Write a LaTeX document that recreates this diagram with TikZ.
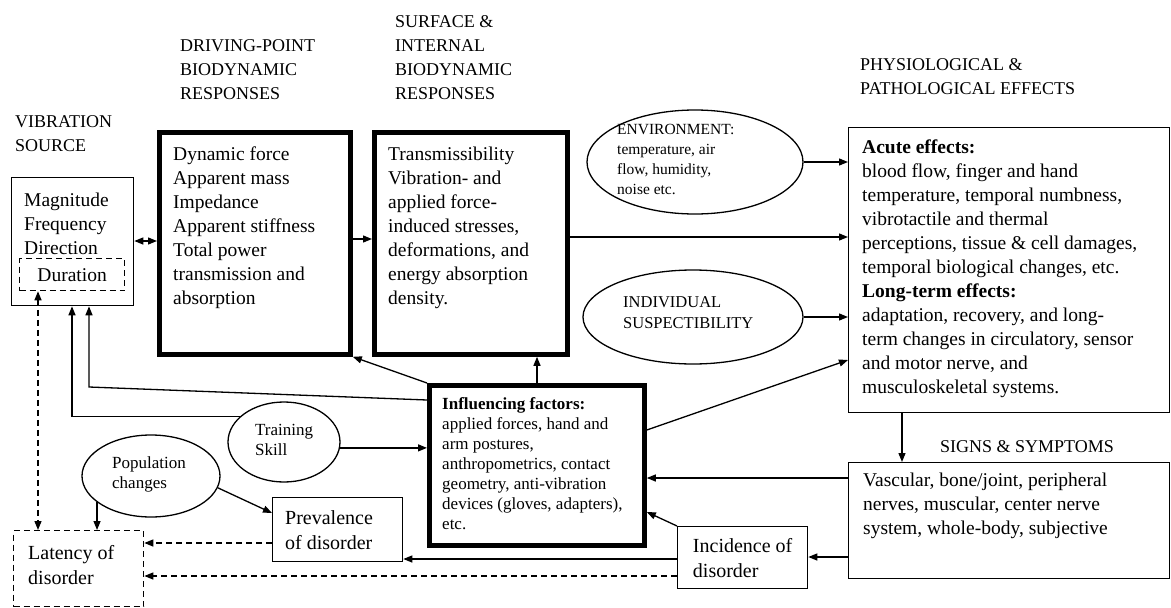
\documentclass[tikz,border=0pt]{standalone}
\usepackage{fontspec}
\setmainfont{Liberation Serif}
\usetikzlibrary{arrows.meta,shapes.geometric,calc}
\begin{document}
\begin{tikzpicture}[x=1pt,y=-1pt,
  box/.style={draw, line width=1.3pt, rectangle, inner sep=0pt, anchor=north west},
  thickbox/.style={draw, line width=4.8pt, rectangle, inner sep=0pt, anchor=north west},
  dbox/.style={draw, line width=1.3pt, dash pattern=on 6pt off 4pt, rectangle, inner sep=0pt, anchor=north west},
  oval/.style={draw, ellipse, line width=1.3pt, inner sep=0pt},
  txt/.style={anchor=north west, inner sep=0pt, align=left, font=\fontsize{19.5}{24}\selectfont},
  boxtxt/.style={align=left, font=\fontsize{20}{25}\selectfont},
  head/.style={anchor=north west, inner sep=0pt, align=left, font=\fontsize{18}{24}\selectfont},
  smalltxt/.style={anchor=north west, inner sep=0pt, align=left, font=\fontsize{15.5}{20}\selectfont},
  midtxt/.style={anchor=north west, inner sep=0pt, align=left, font=\fontsize{17}{20}\selectfont},
  arr/.style={line width=1.3pt, -{Triangle[length=9pt,width=7pt]}},
  biarr/.style={line width=1.3pt, {Triangle[length=9pt,width=7pt]}-{Triangle[length=9pt,width=7pt]}},
  darr/.style={arr, dash pattern=on 6pt off 4pt},
]
\useasboundingbox (0,0) rectangle (1171,608);

% headings
\node[head] (hvib) at (15,115) {VIBRATION\\SOURCE};
\node[head] (hdrv) at (180,39) {DRIVING-POINT\\BIODYNAMIC\\RESPONSES};
\node[head] (hsrf) at (395,15) {SURFACE \&\\INTERNAL\\BIODYNAMIC\\RESPONSES};
\node[head] (hphy) at (860,58) {PHYSIOLOGICAL \&\\PATHOLOGICAL EFFECTS};
\node[head] (hsig) at (940,440) {SIGNS \& SYMPTOMS};

% vibration source
\node[box, minimum width=122, minimum height=128] (vib) at (11,177) {};
\node[txt] (vibt) at (24,193) {Magnitude\\Frequency\\Direction};
\node[dbox, minimum width=105, minimum height=32, font=\fontsize{19.5}{24}\selectfont] (dur) at (19,258) {Duration};

% driving point
\node[thickbox, minimum width=191, minimum height=222] (drv) at (157,130) {};
\node[txt] (drvt) at (173,147) {Dynamic force\\Apparent mass\\Impedance\\Apparent stiffness\\Total power\\transmission and\\absorption};

% surface
\node[thickbox, minimum width=193, minimum height=222] (srf) at (372,130) {};
\node[txt] (srft) at (388,147) {Transmissibility\\Vibration- and\\applied force-\\induced stresses,\\deformations, and\\energy absorption\\density.};

% environment
\node[oval, minimum width=216, minimum height=104] (env) at (695,162) {};
\node[smalltxt] (envt) at (617,124) {ENVIRONMENT:\\temperature, air\\flow, humidity,\\noise etc.};

% individual
\node[oval, minimum width=220, minimum height=94] (ind) at (693,317) {};
\node[anchor=north west, inner sep=0pt, align=left, font=\fontsize{16.5}{21}\selectfont] (indt) at (623,296) {INDIVIDUAL\\SUSPECTIBILITY};

% physiological
\node[box, minimum width=321, minimum height=285] (phys) at (848,127) {};
\node[txt] (physt) at (862,140) {\textbf{Acute effects:}\\blood flow, finger and hand\\temperature, temporal numbness,\\vibrotactile and thermal\\perceptions, tissue \& cell damages,\\temporal biological changes, etc.\\\textbf{Long-term effects:}\\adaptation, recovery, and long-\\term changes in circulatory, sensor\\and motor nerve, and\\musculoskeletal systems.};

% signs
\node[box, minimum width=321, minimum height=116] (sig) at (848,462) {};
\node[txt] (sigt) at (863,473) {Vascular, bone/joint, peripheral\\nerves, muscular, center nerve\\system, whole-body, subjective};

% influencing
\node[thickbox, minimum width=215, minimum height=160] (inf) at (427,383) {};
\node[midtxt] (inft) at (442,397) {\textbf{Influencing factors:}\\applied forces, hand and\\arm postures,\\anthropometrics, contact\\geometry, anti-vibration\\devices (gloves, adapters),\\etc.};

% training, population
\node[oval, minimum width=112, minimum height=80] (trn) at (284,442) {};
\node[midtxt] (trnt) at (255,424) {Training\\Skill};
\node[oval, minimum width=138, minimum height=82] (pop) at (151,476) {};
\node[midtxt] (popt) at (112,456) {Population\\changes};

% prevalence, incidence, latency
\node[box, minimum width=130, minimum height=64] (prev) at (272,497) {};
\node[anchor=north west, inner sep=0pt, boxtxt] (prevt) at (285,510) {Prevalence\\of disorder};
\node[box, minimum width=130, minimum height=62, boxtxt] (inc) at (677,526) {Incidence of\\disorder};
\node[dbox, minimum width=130, minimum height=76] (lat) at (13,530) {};
\node[anchor=north west, inner sep=0pt, boxtxt] (latt) at (28,545) {Latency of\\disorder};

% connectors
\draw[biarr] (vib.east |- 0,241) -- (drv.west |- 0,241);
\draw[arr] (drv.east |- 0,239) -- (srf.west |- 0,239);
\draw[arr] (srf.east |- 0,237) -- (phys.west |- 0,237);
\draw[arr] (env.east) -- (env.east -| phys.west);
\draw[arr] (ind.east) -- (ind.east -| phys.west);
\draw[arr] (inf.east |- 0,430) -- (phys.west |- 0,360);
\draw[arr] (phys.south -| 902,0) -- (sig.north -| 902,0);
\draw[arr] (sig.west |- 0,478) -- (inf.east |- 0,478);
\draw[arr] (sig.west |- 0,557) -- (inc.east |- 0,557);
\draw[arr] (inc.north west) -- (inf.east |- 0,512);
\draw[arr] (inc.west |- 0,559) -- (prev.east |- 0,559);
\draw[darr] (inc.west |- 0,576) -- (lat.east |- 0,576);
\draw[darr] (prev.west |- 0,543) -- (lat.east |- 0,543);
\draw[arr] (pop.206) -- (pop.206 |- lat.north);
\draw[arr] (pop.-10) -- (prev.west |- 0,513);
\draw[biarr, dash pattern=on 6pt off 4pt] (dur.south -| 38,0) -- (lat.north -| 38,0);
\draw[arr] (trn.150) -- (trn.150 -| 72,0) -- (vib.south -| 72,0);
\draw[arr] (inf.west |- 0,400) -- (89,387) -- (vib.south -| 89,0);
\draw[arr] (trn.-6) -- (inf.west |- trn.-6);
\draw[arr] (inf.north west) -- (drv.south east);
\draw[arr] (inf.north -| 537,0) -- (srf.south -| 537,0);
\end{tikzpicture}
\end{document}
